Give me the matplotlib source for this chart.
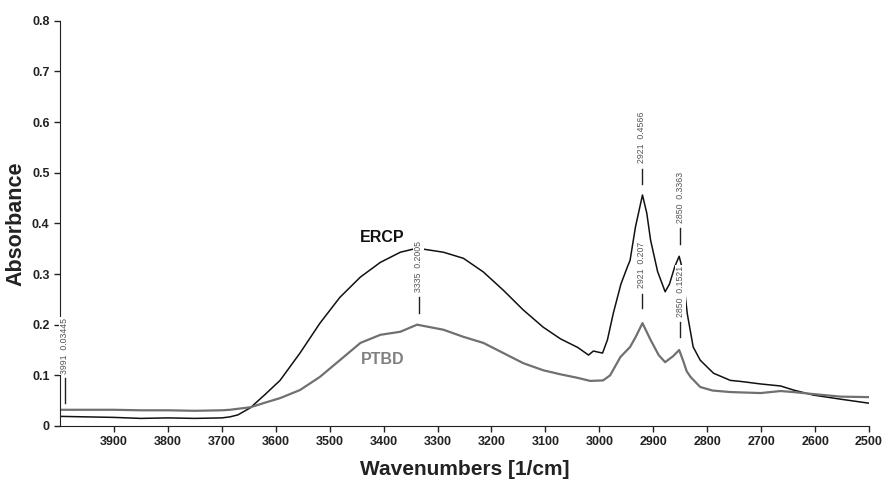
import matplotlib
matplotlib.use("Agg")
import matplotlib.pyplot as plt

plt.rcParams['font.family'] = ['Liberation Sans', 'DejaVu Sans']

ercp_x = [4000, 3950, 3900, 3850, 3800, 3750, 3700, 3685, 3670, 3647, 3620, 3592, 3555, 3518,
          3481, 3443, 3406, 3369, 3338, 3289, 3252, 3215, 3178, 3141, 3104, 3072, 3040, 3020,
          3011, 3003, 2994, 2985, 2974, 2960, 2948, 2943, 2933, 2920, 2912, 2905, 2892, 2878,
          2870, 2860, 2852, 2846, 2841, 2837, 2826, 2813, 2794, 2788, 2757, 2738, 2701, 2664,
          2640, 2603, 2553, 2500]
ercp_y = [0.019, 0.018, 0.017, 0.015, 0.016, 0.015, 0.016, 0.018, 0.022, 0.036, 0.062, 0.090,
          0.144, 0.203, 0.254, 0.294, 0.323, 0.343, 0.351, 0.343, 0.331, 0.304, 0.268, 0.229,
          0.195, 0.172, 0.155, 0.140, 0.148, 0.146, 0.144, 0.170, 0.223, 0.280, 0.314, 0.327,
          0.393, 0.456, 0.420, 0.367, 0.305, 0.265, 0.280, 0.315, 0.335, 0.310, 0.260, 0.222,
          0.156, 0.130, 0.110, 0.104, 0.090, 0.088, 0.083, 0.079, 0.071, 0.061, 0.053, 0.045]

ptbd_x = [4000, 3950, 3900, 3850, 3800, 3750, 3700, 3685, 3647, 3620, 3592, 3555, 3518, 3481,
          3443, 3406, 3369, 3338, 3289, 3252, 3215, 3178, 3141, 3104, 3072, 3040, 3017, 2993,
          2980, 2961, 2943, 2933, 2920, 2905, 2890, 2878, 2863, 2852, 2845, 2838, 2831, 2813,
          2790, 2757, 2701, 2664, 2640, 2603, 2553, 2500]
ptbd_y = [0.032, 0.032, 0.032, 0.031, 0.031, 0.030, 0.031, 0.032, 0.037, 0.046, 0.055, 0.071,
          0.097, 0.130, 0.164, 0.180, 0.186, 0.200, 0.190, 0.176, 0.164, 0.144, 0.124, 0.110,
          0.102, 0.095, 0.089, 0.090, 0.100, 0.136, 0.156, 0.175, 0.203, 0.170, 0.140, 0.126,
          0.138, 0.150, 0.130, 0.108, 0.097, 0.077, 0.070, 0.067, 0.065, 0.069, 0.067, 0.063,
          0.058, 0.057]

peak_x = [3991, 3335, 2921, 2850, 2921, 2850]
peak_labels = ["3991  0.03445", "3335  0.2005", "2921  0.4566", "2850  0.3363",
               "2921  0.207", "2850  0.1521"]
# layout of the peak markers (data units): marker bottom, marker top, text base
marker_lo = [0.045, 0.223, 0.478, 0.360, 0.233, 0.176]
marker_hi = [0.095, 0.254, 0.508, 0.390, 0.260, 0.205]
text_base = [0.103, 0.264, 0.520, 0.400, 0.272, 0.215]

xticks = [3900, 3800, 3700, 3600, 3500, 3400, 3300, 3200, 3100, 3000, 2900, 2800, 2700, 2600, 2500]
yticks = [0, 0.1, 0.2, 0.3, 0.4, 0.5, 0.6, 0.7, 0.8]
ytick_labels = ["0", "0.1", "0.2", "0.3", "0.4", "0.5", "0.6", "0.7", "0.8"]

fig = plt.figure(figsize=(8.85, 4.84), dpi=100)
ax = fig.add_axes([60/885, 1 - 426/484, (869 - 60)/885, (426 - 20.7)/484])

ax.plot(ercp_x, ercp_y, color='#111111', lw=1.1, zorder=2)
ax.plot(ptbd_x, ptbd_y, color='#707070', lw=1.6, zorder=2)

for px, lab, lo, hi, tb in zip(peak_x, peak_labels, marker_lo, marker_hi, text_base):
    ax.plot([px, px], [lo, hi], color='#222222', lw=1.0, zorder=3)
    ax.text(px, tb, lab, rotation=90, ha='center', va='bottom', fontsize=6.3,
            color='#555555', zorder=4,
            bbox=dict(facecolor='white', edgecolor='none', pad=0.6))

ax.text(3403, 0.373, "ERCP", fontsize=11.5, fontweight='bold', color='#111111',
        ha='center', va='center')
ax.text(3401, 0.132, "PTBD", fontsize=11.5, fontweight='bold', color='#808080',
        ha='center', va='center')

ax.set_xlim(4000, 2500)
ax.set_ylim(0, 0.8)
ax.set_xticks(xticks)
ax.set_xticklabels([str(t) for t in xticks])
ax.set_yticks(yticks)
ax.set_yticklabels(ytick_labels)
for lbl in ax.get_xticklabels() + ax.get_yticklabels():
    lbl.set_fontweight('bold')
    lbl.set_fontsize(9)
    lbl.set_color('#222222')
ax.tick_params(direction='out', length=4, width=1, colors='#222222')
ax.spines['top'].set_visible(False)
ax.spines['right'].set_visible(False)
ax.spines['left'].set_color('#222222')
ax.spines['bottom'].set_color('#222222')
ax.set_xlabel("Wavenumbers [1/cm]", fontsize=15, fontweight='bold', color='#222222', labelpad=8)
ax.set_ylabel("Absorbance", fontsize=15.5, fontweight='bold', color='#222222', labelpad=4)

fig.savefig("out.png", dpi=100)
